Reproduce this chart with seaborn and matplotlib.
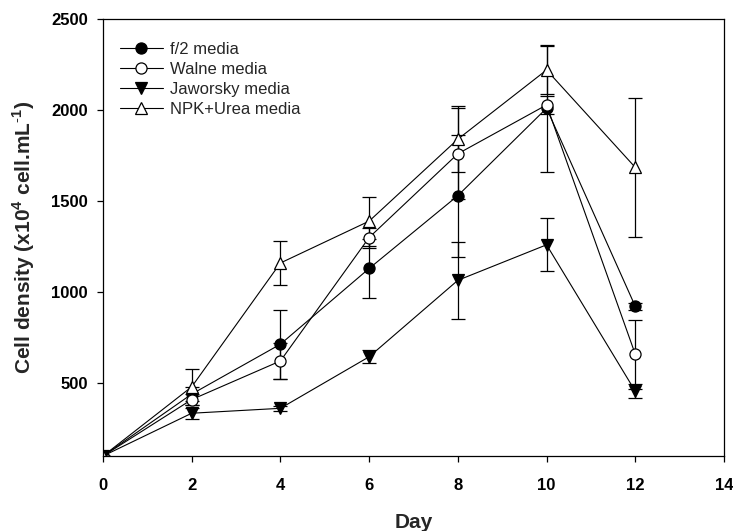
import pandas as pd
import seaborn as sns
import matplotlib.pyplot as plt

days = [0, 2, 4, 6, 8, 10, 12]

f2_mean = [100, 440, 714, 1130, 1530, 2010, 922]
f2_err = [0, 40, 190, 160, 335, 350, 20]

walne_mean = [100, 410, 622, 1300, 1760, 2028, 659]
walne_err = [0, 30, 100, 55, 250, 50, 190]

jaworsky_mean = [100, 335, 362, 645, 1065, 1260, 456]
jaworsky_err = [0, 30, 15, 35, 210, 145, 40]

npk_mean = [100, 480, 1160, 1390, 1840, 2220, 1685]
npk_err = [0, 100, 120, 135, 180, 130, 380]

series = [
    ("f/2 media", f2_mean, f2_err, "o", "black", 8),
    ("Walne media", walne_mean, walne_err, "o", "white", 8),
    ("Jaworsky media", jaworsky_mean, jaworsky_err, "v", "black", 8.5),
    ("NPK+Urea media", npk_mean, npk_err, "^", "white", 8.5),
]


def main():
    sns.set_style("ticks")
    plt.rcParams["font.family"] = ["Liberation Sans", "DejaVu Sans"]
    plt.rcParams["mathtext.fontset"] = "custom"
    plt.rcParams["mathtext.rm"] = "Liberation Sans"
    plt.rcParams["mathtext.bf"] = "Liberation Sans:bold"

    fig = plt.figure(figsize=(7.33, 5.31), dpi=100)
    ax = fig.add_axes([0.1405, 0.1412, 0.8472, 0.823])

    for name, mean, err, mk, face, ms in series:
        df = pd.DataFrame({"Day": days, "Density": mean, "err": err})
        ax.errorbar(df["Day"], df["Density"], yerr=df["err"], fmt="none",
                    ecolor="black", elinewidth=0.9, capsize=5, capthick=0.9,
                    zorder=1)
        sns.lineplot(data=df, x="Day", y="Density", ax=ax, color="black",
                     linewidth=0.8, marker=mk, markersize=ms,
                     markerfacecolor=face, markeredgecolor="black",
                     markeredgewidth=0.9, label=name, zorder=2)

    ax.set_xlim(0, 14)
    ax.set_ylim(100, 2500)
    ax.set_xticks(range(0, 15, 2))
    ax.set_yticks([500, 1000, 1500, 2000, 2500])
    for s in ax.spines.values():
        s.set_visible(True)
        s.set_linewidth(0.9)
        s.set_color("black")
    ax.tick_params(axis="both", direction="out", length=4, width=0.9,
                   colors="black", labelsize=12)
    ax.tick_params(axis="x", pad=12)
    ax.tick_params(axis="y", pad=7)
    for lab in ax.get_xticklabels() + ax.get_yticklabels():
        lab.set_fontweight("bold")

    ax.set_xlabel("Day", fontsize=15, fontweight="bold", labelpad=14)
    ax.set_ylabel(r"Cell density (x10$^\mathbf{4}$ cell.mL$^\mathbf{\text{-}1}$)",
                  fontsize=15, fontweight="bold", labelpad=10)

    ax.legend(loc="upper left", frameon=False, fontsize=12,
              handlelength=2.6, labelspacing=0.3, handletextpad=0.4,
              borderaxespad=0.6, bbox_to_anchor=(0.0, 0.985))

    fig.savefig("out.png", dpi=100)


if __name__ == "__main__":
    main()
